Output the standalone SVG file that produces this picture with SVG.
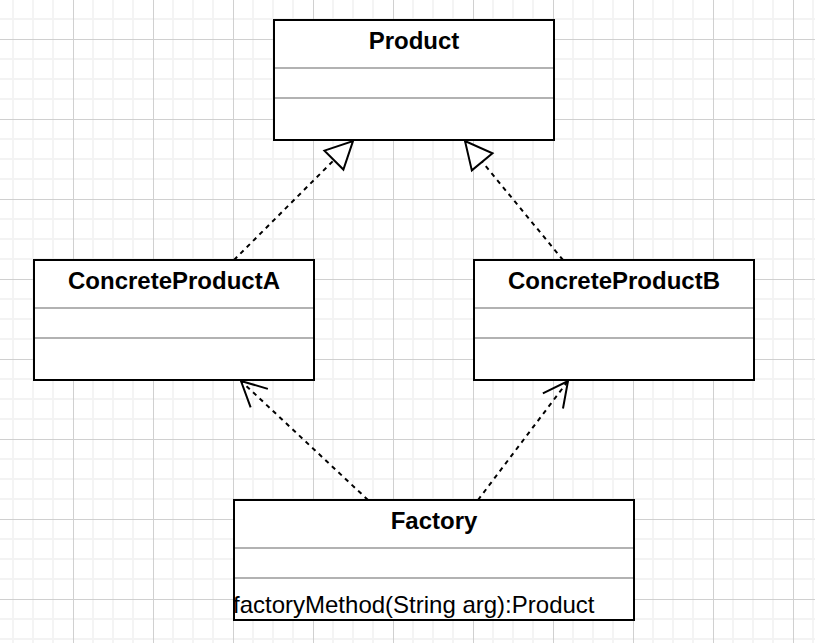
<svg xmlns="http://www.w3.org/2000/svg" width="815" height="643" viewBox="0 0 815 643">
  <style>
    .box { fill: #ffffff; stroke: #000000; stroke-width: 2; }
    .sep { stroke: #999999; stroke-width: 1.5; fill: none; }
    .title { font-family: "Liberation Sans", Arial, Helvetica, sans-serif; font-size: 24px; font-weight: bold; fill: #000000; text-anchor: middle; }
    .member { font-family: "Liberation Sans", Arial, Helvetica, sans-serif; font-size: 24px; fill: #000000; }
    .dep { stroke: #000000; stroke-width: 2; stroke-dasharray: 4.5 4.5; fill: none; }
    .head { stroke: #000000; stroke-width: 2; stroke-dasharray: none; }
  </style>
  <defs>
    <pattern id="grid" x="-7" y="-41" width="80" height="80" patternUnits="userSpaceOnUse">
      <rect width="80" height="80" fill="#ffffff"/>
      <path d="M20,0 V80 M40,0 V80 M60,0 V80 M0,20 H80 M0,40 H80 M0,60 H80" stroke="#f3f3f3" stroke-width="1.8" fill="none"/>
      <path d="M0.5,0 V80 M0,0.5 H80" stroke="#d0d0d0" stroke-width="1" fill="none"/>
    </pattern>
    <marker id="tri" markerUnits="userSpaceOnUse" viewBox="-30 -16 32 32" markerWidth="32" markerHeight="32" refX="0" refY="0" orient="auto" overflow="visible">
      <path class="head" d="M-27,-13.4 L0,0 L-27,13.4 Z" fill="#ffffff"/>
    </marker>
    <marker id="open" markerUnits="userSpaceOnUse" viewBox="-30 -16 32 32" markerWidth="32" markerHeight="32" refX="0" refY="0" orient="auto" overflow="visible">
      <path class="head" d="M-25,-12.6 L0,0 L-25,12.6" fill="none"/>
    </marker>
  </defs>
  <rect x="0" y="0" width="815" height="643" fill="url(#grid)"/>

  <g id="connectors">
    <line class="dep" x1="234" y1="260" x2="353" y2="141" marker-end="url(#tri)"/>
    <line class="dep" x1="563" y1="260" x2="465" y2="141" marker-end="url(#tri)"/>
    <line class="dep" x1="368" y1="500" x2="241" y2="381" marker-end="url(#open)"/>
    <line class="dep" x1="478" y1="500" x2="568" y2="381" marker-end="url(#open)"/>
  </g>

  <g id="product">
    <rect class="box" x="274" y="20" width="280" height="120"/>
    <line class="sep" x1="275" y1="68" x2="553" y2="68"/>
    <line class="sep" x1="275" y1="98" x2="553" y2="98"/>
    <text class="title" x="414" y="49">Product</text>
  </g>

  <g id="concreteProductA">
    <rect class="box" x="34" y="260" width="280" height="120"/>
    <line class="sep" x1="35" y1="308" x2="313" y2="308"/>
    <line class="sep" x1="35" y1="338" x2="313" y2="338"/>
    <text class="title" x="174" y="289">ConcreteProductA</text>
  </g>

  <g id="concreteProductB">
    <rect class="box" x="474" y="260" width="280" height="120"/>
    <line class="sep" x1="475" y1="308" x2="753" y2="308"/>
    <line class="sep" x1="475" y1="338" x2="753" y2="338"/>
    <text class="title" x="614" y="289">ConcreteProductB</text>
  </g>

  <g id="factory">
    <rect class="box" x="234" y="500" width="400" height="120"/>
    <line class="sep" x1="235" y1="548" x2="633" y2="548"/>
    <line class="sep" x1="235" y1="578" x2="633" y2="578"/>
    <text class="title" x="434" y="529">Factory</text>
    <text class="member" x="233" y="613">factoryMethod(String arg):Product</text>
  </g>
</svg>
